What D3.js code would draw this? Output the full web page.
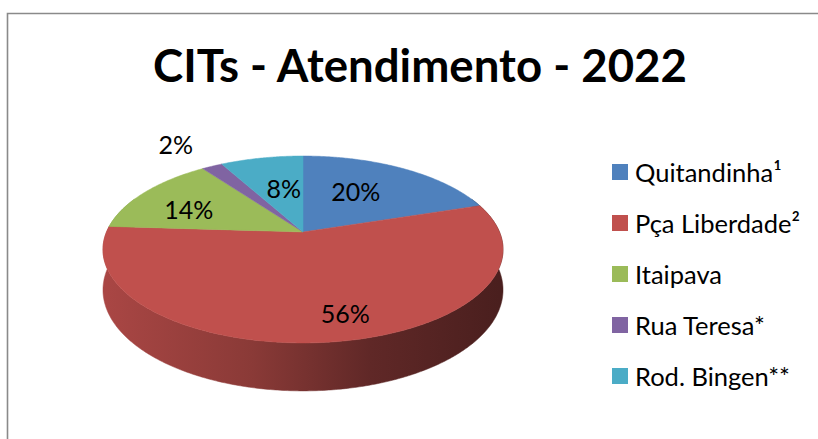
<!DOCTYPE html>
<html><head><meta charset="utf-8">
<script src="https://cdn.jsdelivr.net/npm/d3@7"></script>
<style>body{margin:0;background:#fff}</style></head>
<body><svg id="c" width="818" height="439"></svg>
<script>
// ---- data ----
const title = "CITs - Atendimento - 2022";
const categories = ["Quitandinha¹", "Pça Liberdade²", "Itaipava", "Rua Teresa*", "Rod. Bingen**"];
const values = [20, 56, 14, 2, 8];
const valueLabels = ["20%", "56%", "14%", "2%", "8%"];
const colors = ["#4F81BD", "#C0504D", "#9BBB59", "#8064A2", "#4BACC6"];

// ---- layout ----
const W = 818, H = 439;
const cx = 303, cy = 232, a = 196.5, b = 90.2, persp = -0.187, depth = 39;
// [fraction along slice angle, radial fraction] for each value label
const labelAt = [[0.43, 0.57], [0.47, 0.8], [0.38, 0.66], [0.3, 1.42], [0.6, 0.54]];
const font = "Lato, 'Open Sans', sans-serif";

const svg = d3.select("#c");
svg.append("rect").attr("width", W).attr("height", H).attr("fill", "#fff");
svg.append("path").attr("d", `M7.5,${H} V13.5 H${W}`).attr("fill", "none")
  .attr("stroke", "#8a8a8a").attr("stroke-width", 1.6);

const xs = d3.scaleLinear().domain([-1, 1]).range([cx - a, cx + a]);
const ys = d3.scaleLinear().domain([-1, 1]).range([cy - b, cy + b]);
function proj(theta, r, z) {
  const u = r * Math.sin(theta), v = -r * Math.cos(theta), d = 1 + persp * v;
  return [cx + (xs(u) - cx) / d, cy + ((ys(v) - cy) + z * depth) / d];
}
function arcPts(t0, t1, r, z) {
  const n = Math.max(2, Math.ceil(Math.abs(t1 - t0) / 0.01));
  return d3.range(n + 1).map(i => proj(t0 + (t1 - t0) * i / n, r, z));
}
const line = d3.line();
const arcs = d3.pie().sort(null).value(d => d)(values);

const defs = svg.append("defs");
// walls
const f0 = Math.PI / 2 - 0.4, f1 = 3 * Math.PI / 2 + 0.4;
arcs.forEach((s, i) => {
  const t0 = Math.max(s.startAngle, f0), t1 = Math.min(s.endAngle, f1);
  if (t1 <= t0) return;
  const base = d3.rgb(colors[i]);
  const g = defs.append("linearGradient").attr("id", "w" + i)
    .attr("gradientUnits", "userSpaceOnUse")
    .attr("x1", cx - a).attr("x2", cx + a).attr("y1", 0).attr("y2", 0);
  [[0, 0.88], [0.37, 0.72], [0.67, 0.5], [1, 0.385]].forEach(([o, k]) => {
    g.append("stop").attr("offset", o)
      .attr("stop-color", d3.rgb(base.r * k, base.g * k, base.b * k).formatHex());
  });
  const pts = arcPts(t0, t1, 1, 0).concat(arcPts(t1, t0, 1, 1));
  svg.append("path").attr("d", line(pts) + "Z").attr("fill", `url(#w${i})`)
    .attr("stroke", `url(#w${i})`).attr("stroke-width", 0.5);
});
// top faces
arcs.forEach((s, i) => {
  const pts = [proj(0, 0, 0)].concat(arcPts(s.startAngle, s.endAngle, 1, 0));
  svg.append("path").attr("d", line(pts) + "Z").attr("fill", colors[i])
    .attr("stroke", colors[i]).attr("stroke-width", 0.5);
});
// value labels
arcs.forEach((s, i) => {
  const [fr, rr] = labelAt[i];
  const p = proj(s.startAngle + (s.endAngle - s.startAngle) * fr, rr, 0);
  svg.append("text").attr("x", p[0]).attr("y", p[1] + 9)
    .attr("text-anchor", "middle").attr("font-family", font)
    .attr("font-size", 25).attr("fill", "#000").text(valueLabels[i]);
});

// title
svg.append("text").attr("x", 420).attr("y", 82).attr("text-anchor", "middle")
  .attr("font-family", font).attr("font-weight", 700).attr("font-size", 45)
  .attr("textLength", 534).attr("lengthAdjust", "spacingAndGlyphs")
  .attr("fill", "#000").text(title);

// legend
const ly = d3.scaleLinear().domain([0, 1]).range([172, 223]);
const lg = svg.append("g");
categories.forEach((c, i) => {
  const y = ly(i);
  lg.append("rect").attr("x", 612).attr("y", y - 8).attr("width", 16).attr("height", 16)
    .attr("fill", colors[i]);
  lg.append("text").attr("x", 635).attr("y", y + 9.5).attr("font-family", font)
    .attr("font-size", 25.5).attr("fill", "#000").text(c);
});
</script></body></html>
